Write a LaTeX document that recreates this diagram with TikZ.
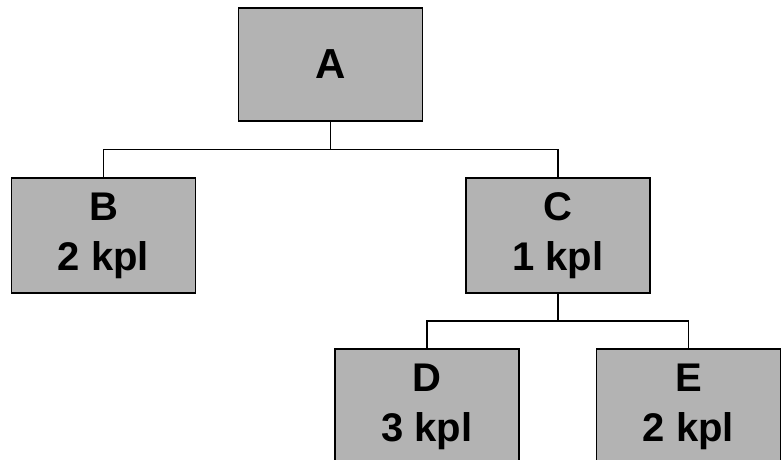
\documentclass[tikz,border=0pt]{standalone}
\usepackage{fontspec}
\setmainfont{Liberation Sans}
\begin{document}
\begin{tikzpicture}[x=1pt,y=-1pt,
  orgbox/.style={draw=black, line width=1.5pt, fill={rgb,255:red,179;green,179;blue,179},
    minimum width=184pt, minimum height=115pt, inner sep=0pt, align=center,
    font=\bfseries\fontsize{40}{50}\selectfont},
  topbox/.style={orgbox, minimum height=113pt, font=\bfseries\fontsize{42}{48}\selectfont},
  link/.style={draw=black, line width=1.5pt}]
\useasboundingbox (0,0) rectangle (781,459);
\clip (0,0) rectangle (781,459);
\node[topbox] (A) at (330.5,64.5) {A};
\node[orgbox] (B) at (103.5,235.5) {B\\2 kpl};
\node[orgbox] (C) at (558,235.5) {C\\1 kpl};
\node[orgbox] (D) at (427,406.5) {D\\3 kpl};
\node[orgbox] (E) at (688.5,406.5) {E\\2 kpl};
\coordinate (j1) at (330.5,149.5);
\coordinate (j2) at (558,321);
\draw[link] (A.south) -- (j1);
\draw[link] (B.north) |- (j1) -| (C.north);
\draw[link] (C.south) -- (j2);
\draw[link] (D.north) |- (j2) -| (E.north);
\end{tikzpicture}
\end{document}
